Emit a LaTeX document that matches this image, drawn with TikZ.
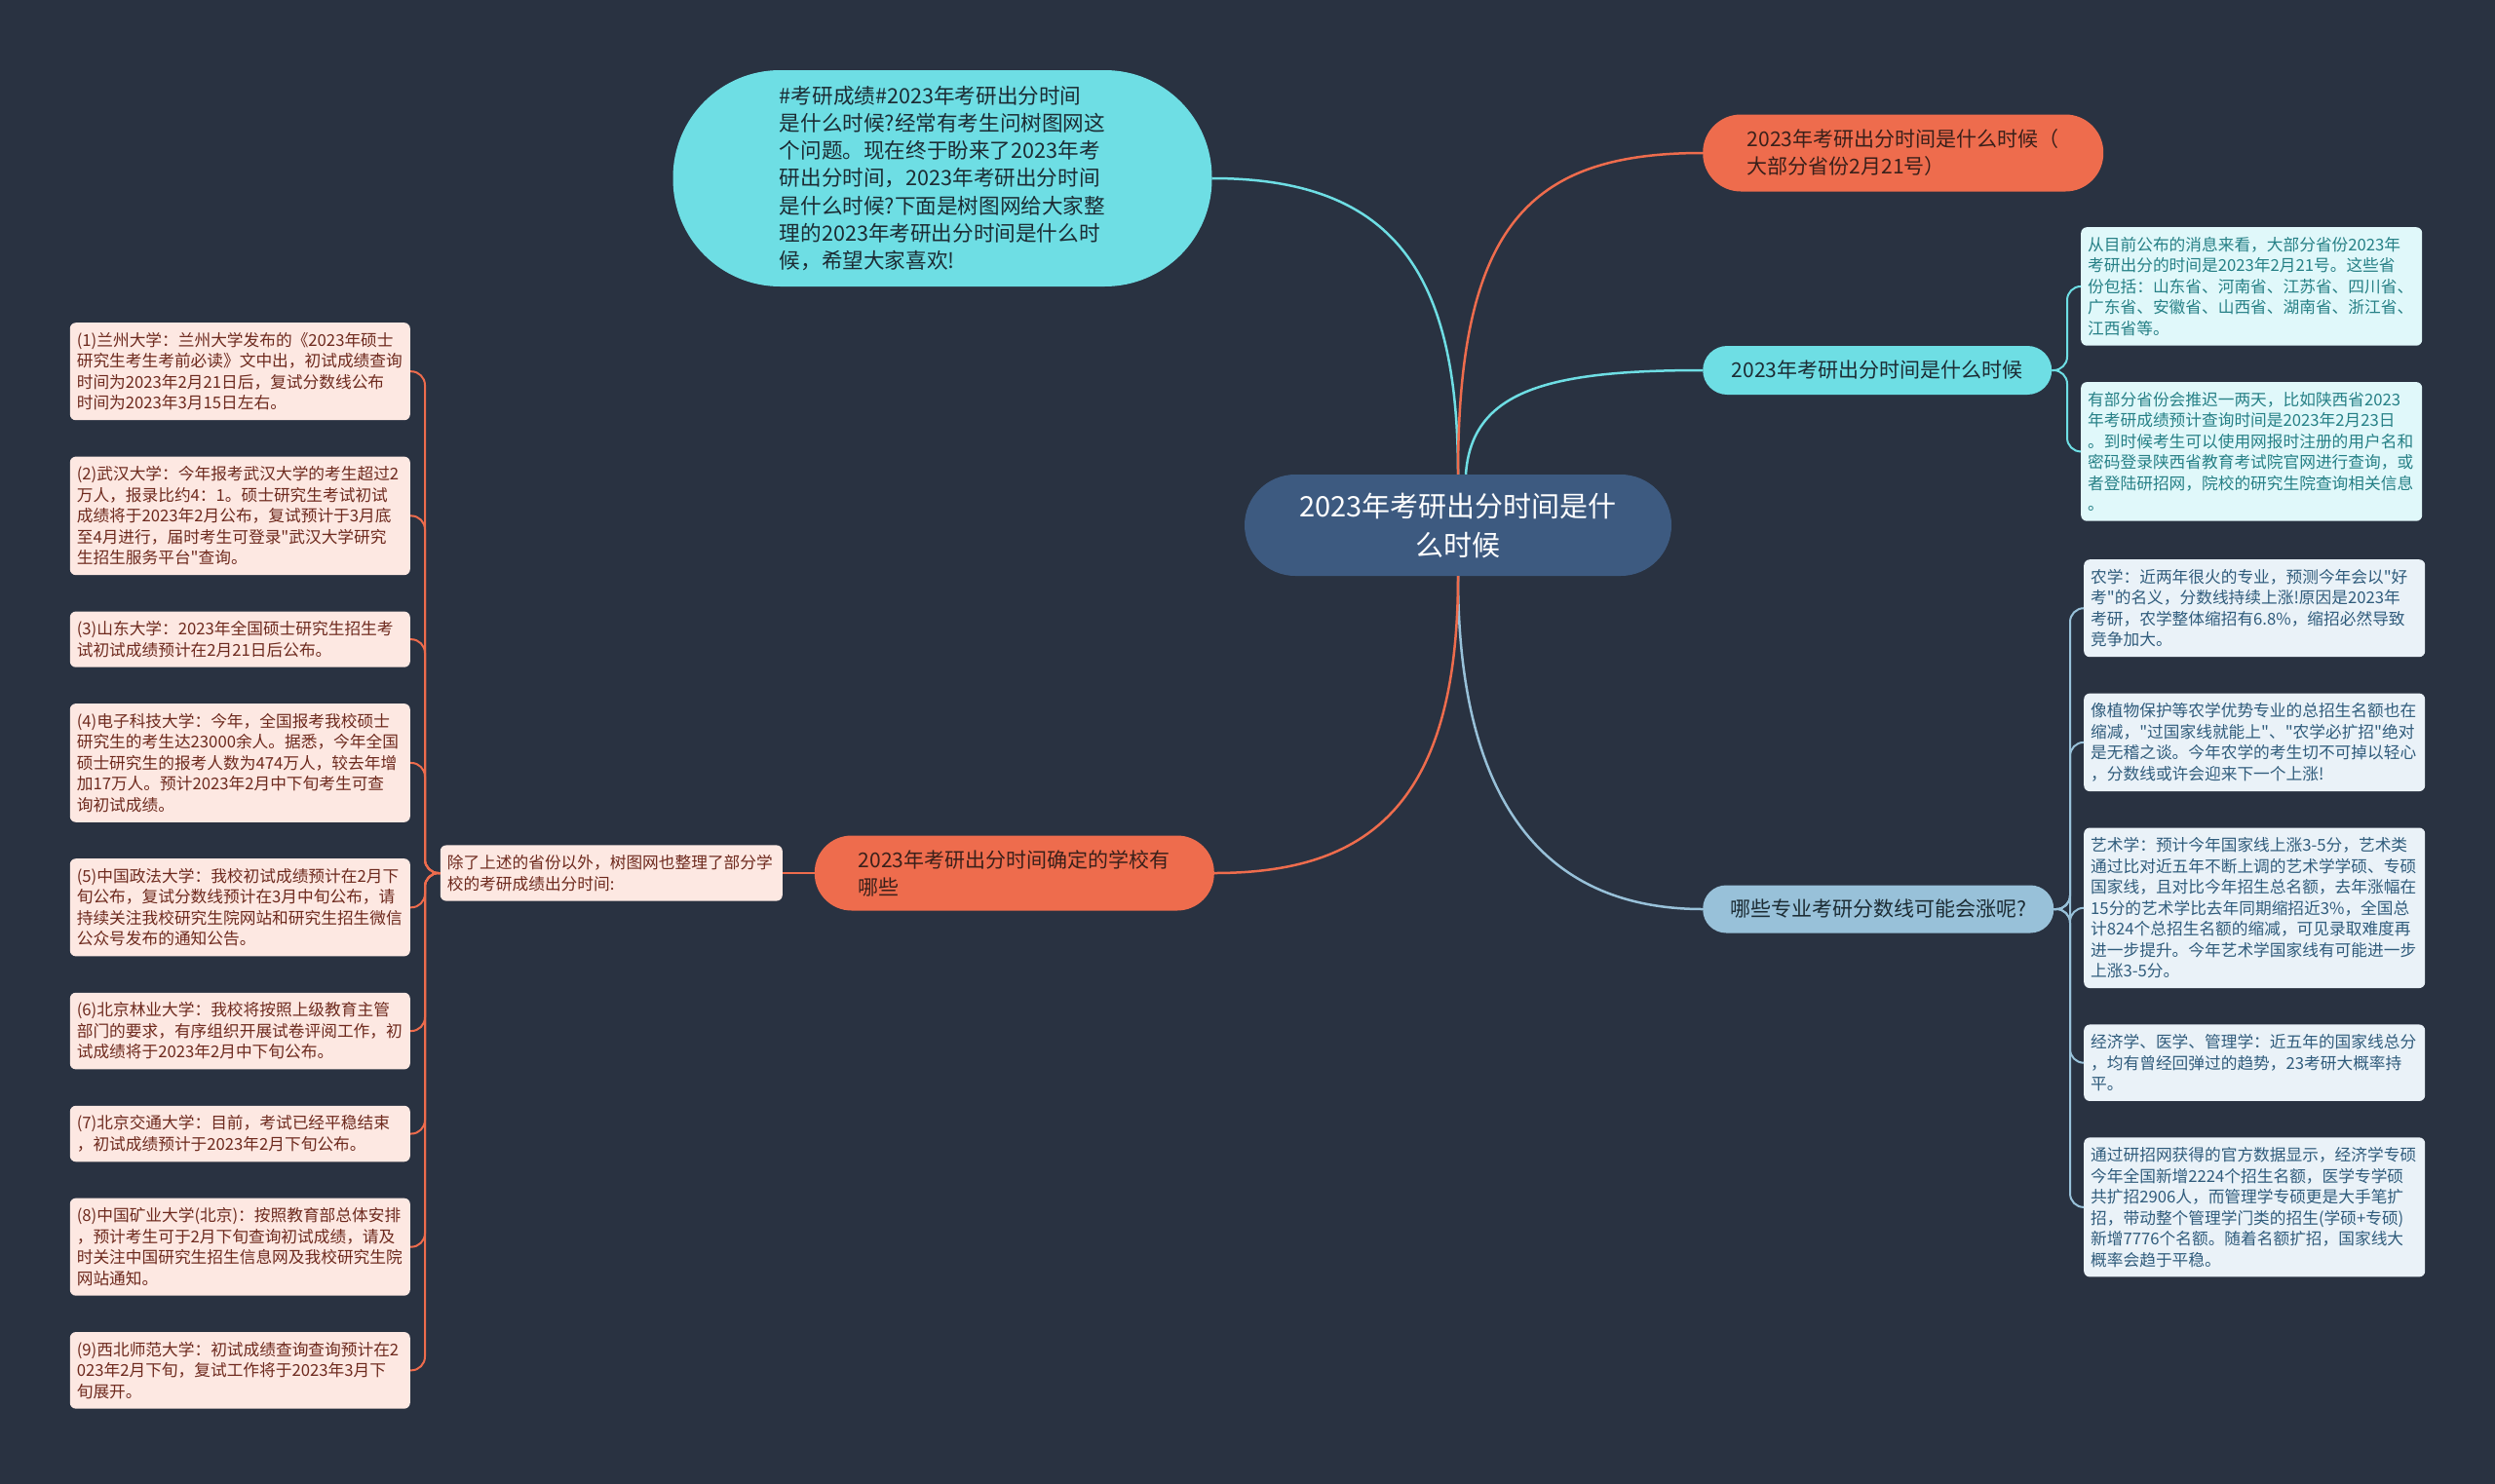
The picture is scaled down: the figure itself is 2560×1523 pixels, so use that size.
\documentclass[tikz,border=0pt]{standalone}
\usepackage{fontspec}
\setmainfont{Noto Sans CJK SC}[Ligatures=TeXOff]
\usepackage{tikz}
\usetikzlibrary{positioning}
\definecolor{bgnavy}{RGB}{41,50,65}
\definecolor{rootblue}{RGB}{61,90,128}
\definecolor{cyanfill}{RGB}{110,222,228}
\definecolor{orangefill}{RGB}{238,108,77}
\definecolor{skyfill}{RGB}{152,193,217}
\definecolor{cyanpaper}{RGB}{224,248,250}
\definecolor{skypaper}{RGB}{234,242,248}
\definecolor{pinkpaper}{RGB}{253,232,226}
\definecolor{cyanink}{RGB}{38,128,134}
\definecolor{skyink}{RGB}{48,92,124}
\definecolor{pinkink}{RGB}{110,42,30}
\definecolor{darkink}{RGB}{28,44,52}
\definecolor{brownink}{RGB}{58,32,26}

\begin{document}
\begin{tikzpicture}[x=1pt, y=-1pt, node distance=37pt,
    link/.style={line width=2.5pt},
    twig/.style={line width=2pt, rounded corners=14pt},
    rootnode/.style={fill=rootblue, text=white, rounded corners=52pt, minimum width=438pt, minimum height=104pt, align=center, font=\fontsize{29}{40}\selectfont},
    intronode/.style={fill=cyanfill, text=darkink, rounded corners=110pt, minimum width=553pt, minimum height=222pt, align=left, font=\fontsize{21.6}{28.3}\selectfont},
    topic/.style={align=left, inner sep=0pt, font=\fontsize{21}{28}\selectfont},
    info/.style={rounded corners=6pt, inner xsep=7pt, inner ysep=10pt, align=left, font=\fontsize{16.7}{21.5}\selectfont},
    infocyan/.style={info, fill=cyanpaper, text=cyanink, text width=336pt},
    infosky/.style={info, fill=skypaper, text=skyink, text width=336pt},
    infopink/.style={info, fill=pinkpaper, text=pinkink, text width=335pt}]
    \useasboundingbox (0,0) rectangle (2560,1523);
    \fill[bgnavy] (0,0) rectangle (2560,1523);

    \node (root) [rootnode] at (1496,539) {2023年考研出分时间是什\\么时候};
    \node (intro) [intronode] at (967,183) {\#考研成绩\#2023年考研出分时间\\是什么时候?经常有考生问树图网这\\个问题。现在终于盼来了2023年考\\研出分时间，2023年考研出分时间\\是什么时候?下面是树图网给大家整\\理的2023年考研出分时间是什么时\\候，希望大家喜欢!};

    \node (date) [topic, fill=orangefill, text=brownink, rounded corners=39pt, minimum width=411pt, minimum height=79pt, anchor=west] at (1747,157) {2023年考研出分时间是什么时候（\\大部分省份2月21号）};
    \node (when) [topic, fill=cyanfill, text=darkink, rounded corners=25pt, minimum width=358pt, minimum height=50pt, anchor=west] at (1747,380) {2023年考研出分时间是什么时候};
    \node (rise) [topic, fill=skyfill, text=darkink, rounded corners=24pt, minimum width=360pt, minimum height=49pt, anchor=west] at (1747,933) {哪些专业考研分数线可能会涨呢?};
    \node (schoolsq) [topic, fill=orangefill, text=brownink, rounded corners=38pt, minimum width=410pt, minimum height=77pt, anchor=east] at (1246,896) {2023年考研出分时间确定的学校有\\哪些};
    \node (others) [infopink, text width=337pt, anchor=east] at (803,896) {除了上述的省份以外，树图网也整理了部分学\\校的考研成绩出分时间:};

    \node (mainland) [infocyan, anchor=north west] at (2135,233) {从目前公布的消息来看，大部分省份2023年\\考研出分的时间是2023年2月21号。这些省\\份包括：山东省、河南省、江苏省、四川省、\\广东省、安徽省、山西省、湖南省、浙江省、\\江西省等。};
    \node (delay) [infocyan, below=of mainland] {有部分省份会推迟一两天，比如陕西省2023\\年考研成绩预计查询时间是2023年2月23日\\。到时候考生可以使用网报时注册的用户名和\\密码登录陕西省教育考试院官网进行查询，或\\者登陆研招网，院校的研究生院查询相关信息\\。};

    \node (agri) [infosky, anchor=north west] at (2138,574) {农学：近两年很火的专业，预测今年会以"好\\考"的名义，分数线持续上涨!原因是2023年\\考研，农学整体缩招有6.8\%，缩招必然导致\\竞争加大。};
    \node (plant) [infosky, below=of agri] {像植物保护等农学优势专业的总招生名额也在\\缩减，"过国家线就能上"、"农学必扩招"绝对\\是无稽之谈。今年农学的考生切不可掉以轻心\\，分数线或许会迎来下一个上涨!};
    \node (arts) [infosky, below=of plant] {艺术学：预计今年国家线上涨3-5分，艺术类\\通过比对近五年不断上调的艺术学学硕、专硕\\国家线，且对比今年招生总名额，去年涨幅在\\15分的艺术学比去年同期缩招近3\%，全国总\\计824个总招生名额的缩减，可见录取难度再\\进一步提升。今年艺术学国家线有可能进一步\\上涨3-5分。};
    \node (econ) [infosky, below=of arts] {经济学、医学、管理学：近五年的国家线总分\\，均有曾经回弹过的趋势，23考研大概率持\\平。};
    \node (quota) [infosky, below=of econ] {通过研招网获得的官方数据显示，经济学专硕\\今年全国新增2224个招生名额，医学专学硕\\共扩招2906人，而管理学专硕更是大手笔扩\\招，带动整个管理学门类的招生(学硕+专硕)\\新增7776个名额。随着名额扩招，国家线大\\概率会趋于平稳。};

    \node (lzu) [infopink, anchor=north east] at (421,331) {(1)兰州大学：兰州大学发布的《2023年硕士\\研究生考生考前必读》文中出，初试成绩查询\\时间为2023年2月21日后，复试分数线公布\\时间为2023年3月15日左右。};
    \node (whu) [infopink, below=of lzu] {(2)武汉大学：今年报考武汉大学的考生超过2\\万人，报录比约4：1。硕士研究生考试初试\\成绩将于2023年2月公布，复试预计于3月底\\至4月进行，届时考生可登录"武汉大学研究\\生招生服务平台"查询。};
    \node (sdu) [infopink, below=of whu] {(3)山东大学：2023年全国硕士研究生招生考\\试初试成绩预计在2月21日后公布。};
    \node (uestc) [infopink, below=of sdu] {(4)电子科技大学：今年，全国报考我校硕士\\研究生的考生达23000余人。据悉，今年全国\\硕士研究生的报考人数为474万人，较去年增\\加17万人。预计2023年2月中下旬考生可查\\询初试成绩。};
    \node (cupl) [infopink, below=of uestc] {(5)中国政法大学：我校初试成绩预计在2月下\\旬公布，复试分数线预计在3月中旬公布，请\\持续关注我校研究生院网站和研究生招生微信\\公众号发布的通知公告。};
    \node (bjfu) [infopink, below=of cupl] {(6)北京林业大学：我校将按照上级教育主管\\部门的要求，有序组织开展试卷评阅工作，初\\试成绩将于2023年2月中下旬公布。};
    \node (bjtu) [infopink, below=of bjfu] {(7)北京交通大学：目前，考试已经平稳结束\\，初试成绩预计于2023年2月下旬公布。};
    \node (cumtb) [infopink, below=of bjtu] {(8)中国矿业大学(北京)：按照教育部总体安排\\，预计考生可于2月下旬查询初试成绩，请及\\时关注中国研究生招生信息网及我校研究生院\\网站通知。};
    \node (nwnu) [infopink, below=of cumtb] {(9)西北师范大学：初试成绩查询查询预计在2\\023年2月下旬，复试工作将于2023年3月下\\旬展开。};

    \draw[link, cyanfill] (intro.east) .. controls (1430,183) and (1496,280) .. (root.north);
    \draw[link, orangefill] (root.north) .. controls (1496,230) and (1570,157) .. (date.west);
    \draw[link, cyanfill] ([xshift=8pt]root.north) .. controls (1510,400) and (1590,380) .. (when.west);
    \draw[link, skyfill] (root.south) .. controls (1496,830) and (1590,933) .. (rise.west);
    \draw[link, orangefill] (root.south) .. controls (1496,830) and (1400,896) .. (schoolsq.east);
    \draw[link, orangefill] (schoolsq.west) -- (others.east);

    \draw[twig, cyanfill] (when.east) -| ([xshift=-14pt]mainland.west) -- (mainland.west);
    \draw[twig, cyanfill] (when.east) -| ([xshift=-14pt]delay.west) -- (delay.west);

    \draw[twig, skyfill] (rise.east) -| ([xshift=-14pt]agri.west) -- (agri.west);
    \draw[twig, skyfill] (rise.east) -| ([xshift=-14pt]plant.west) -- (plant.west);
    \draw[twig, skyfill] (rise.east) -| ([xshift=-14pt]arts.west) -- (arts.west);
    \draw[twig, skyfill] (rise.east) -| ([xshift=-14pt]econ.west) -- (econ.west);
    \draw[twig, skyfill] (rise.east) -| ([xshift=-14pt]quota.west) -- (quota.west);

    \draw[twig, orangefill] (others.west) -| ([xshift=15pt]lzu.east) -- (lzu.east);
    \draw[twig, orangefill] (others.west) -| ([xshift=15pt]whu.east) -- (whu.east);
    \draw[twig, orangefill] (others.west) -| ([xshift=15pt]sdu.east) -- (sdu.east);
    \draw[twig, orangefill] (others.west) -| ([xshift=15pt]uestc.east) -- (uestc.east);
    \draw[twig, orangefill] (others.west) -| ([xshift=15pt]cupl.east) -- (cupl.east);
    \draw[twig, orangefill] (others.west) -| ([xshift=15pt]bjfu.east) -- (bjfu.east);
    \draw[twig, orangefill] (others.west) -| ([xshift=15pt]bjtu.east) -- (bjtu.east);
    \draw[twig, orangefill] (others.west) -| ([xshift=15pt]cumtb.east) -- (cumtb.east);
    \draw[twig, orangefill] (others.west) -| ([xshift=15pt]nwnu.east) -- (nwnu.east);
\end{tikzpicture}
\end{document}
